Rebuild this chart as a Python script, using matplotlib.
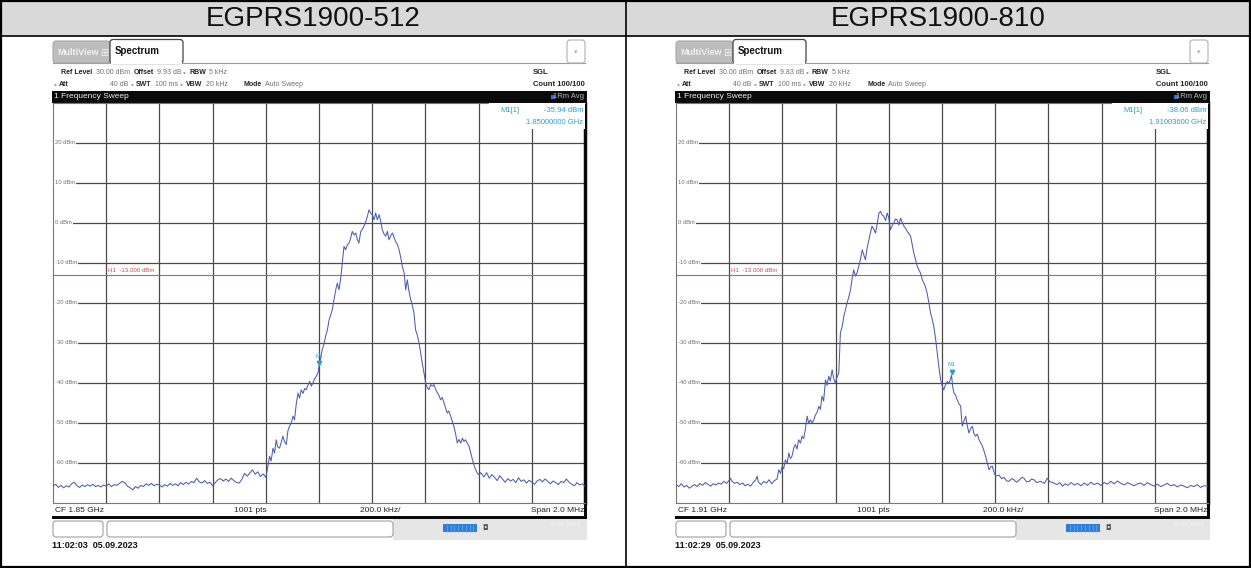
import matplotlib
matplotlib.use("Agg")
import matplotlib.pyplot as plt
from matplotlib.patches import Rectangle, FancyBboxPatch

W, H = 1251, 568

titles = ["EGPRS1900-512", "EGPRS1900-810"]
centre_freq = ["CF 1.85 GHz", "CF 1.91 GHz"]
offsets = ["9.93 dB", "9.83 dB"]
timestamps = ["11:02:03  05.09.2023", "11:02:29  05.09.2023"]
marker_freq = ["1.85000000 GHz", "1.91003600 GHz"]
marker_offset_khz = [0.0, 36.0]
marker_level = [-35.94, -38.06]
h1_level = -13.0
dbm_ticks = [20, 10, 0, -10, -20, -30, -40, -50, -60]

# channel 512: offset from CF (kHz) and level (dBm)
f512 = [-1000, -990, -980, -970, -960, -950, -940, -930, -920, -910, -900, -890, -880, -870, -860,
        -850, -840, -830, -820, -810, -800, -790, -780, -770, -760, -750, -740, -730, -720, -710,
        -700, -690, -680, -670, -660, -650, -640, -630, -620, -610, -600, -590, -580, -570, -560,
        -550, -540, -530, -520, -510, -500, -490, -480, -470, -460, -450, -440, -430, -420, -410,
        -400, -390, -380, -370, -360, -350, -340, -330, -320, -310, -300, -290, -280, -270, -260,
        -250, -240, -230, -220, -210, -200, -195, -186, -180, -173, -167, -161, -155, -148, -142,
        -136, -130, -123, -117, -111, -104, -98, -92, -86, -79, -73, -67, -60, -54, -48,
        -42, -35, -29, -23, -17, -10, -4, 0, 6, 12, 19, 25, 31, 38, 44,
        50, 57, 63, 69, 75, 81, 88, 94, 100, 107, 113, 119, 125, 132, 138,
        144, 150, 157, 163, 169, 176, 182, 188, 194, 200, 207, 213, 219, 226, 232,
        238, 245, 251, 257, 263, 270, 276, 282, 288, 295, 301, 307, 313, 320, 326,
        332, 338, 345, 351, 357, 363, 370, 376, 382, 388, 395, 401, 407, 413, 420,
        426, 432, 438, 445, 451, 457, 463, 470, 476, 482, 488, 495, 501, 507, 514,
        520, 526, 533, 539, 545, 551, 558, 564, 570, 577, 583, 589, 595, 602, 608,
        620, 630, 640, 650, 660, 670, 680, 690, 700, 710, 720, 730, 740, 750, 760,
        770, 780, 790, 800, 810, 820, 830, 840, 850, 860, 870, 880, 890, 900, 910,
        920, 930, 940, 950, 960, 970, 980, 990, 1000]
p512 = [-65.8, -65.3, -66.1, -65.6, -66.2, -65.7, -66.0, -65.2, -64.8, -65.7, -66.1, -65.5, -65.9, -65.4, -65.8,
        -65.3, -65.9, -65.6, -66.0, -65.5, -65.8, -65.2, -65.9, -65.4, -65.6, -65.1, -64.6, -64.9, -65.8, -66.2,
        -66.7, -65.9, -66.3, -65.6, -65.9, -65.2, -65.6, -65.1, -65.7, -65.3, -65.5, -66.0, -65.4, -65.8, -65.1,
        -65.6, -65.2, -65.7, -64.9, -65.4, -64.8, -65.3, -64.6, -64.9, -63.8, -64.7, -65.0, -64.4, -65.1, -64.8,
        -65.7, -64.9, -64.2, -63.9, -64.5, -64.0, -64.6, -63.8, -64.4, -64.9, -65.0, -64.1, -62.6, -63.3, -62.5,
        -61.7, -62.8, -62.2, -63.4, -62.7, -63.6, -62.0, -58.3, -59.5, -56.3, -57.5, -54.2, -56.0, -56.3, -54.8,
        -53.3, -54.6, -55.4, -52.0, -50.8, -50.0, -48.3, -49.2, -45.5, -42.5, -43.8, -41.7, -42.6, -41.4, -41.7,
        -40.6, -39.6, -40.8, -40.0, -39.0, -38.3, -37.5, -35.94, -33.9, -31.7, -30.2, -28.3, -26.9, -24.2, -23.0,
        -21.7, -18.9, -16.7, -15.0, -16.7, -14.2, -9.6, -5.8, -6.7, -5.4, -5.0, -3.8, -2.1, -3.0, -2.5,
        -4.1, -5.0, -2.1, -1.6, -0.8, 0.3, 1.7, 3.3, 2.5, 2.1, 0.8, 2.5, 0.8, 2.1, 0.4,
        -1.7, -2.8, -3.3, -2.1, -4.2, -3.1, -2.5, -3.6, -4.6, -5.4, -6.7, -8.5, -10.8, -12.5, -16.7,
        -14.2, -17.0, -19.2, -20.6, -22.5, -26.7, -28.1, -30.0, -32.4, -35.0, -37.6, -40.0, -41.2, -41.7, -40.4,
        -40.8, -40.4, -41.5, -42.5, -43.1, -44.2, -43.6, -45.0, -46.3, -47.5, -47.0, -48.3, -49.6, -50.8, -52.9,
        -55.0, -54.1, -55.0, -53.8, -54.6, -54.2, -55.1, -55.8, -57.4, -59.2, -60.6, -61.7, -62.5, -63.0, -62.4,
        -63.5, -62.4, -63.8, -62.9, -63.6, -64.4, -63.2, -64.0, -64.8, -63.9, -64.5, -64.1, -64.9, -63.7, -64.6,
        -64.2, -65.0, -64.3, -64.8, -65.3, -64.5, -64.1, -64.7, -64.0, -64.6, -65.2, -64.5, -64.9, -65.4, -64.6,
        -64.9, -64.0, -64.8, -65.3, -65.7, -64.9, -65.5, -65.2, -65.8]

# channel 810: offset from CF (kHz) and level (dBm)
f810 = [-1000, -990, -980, -970, -960, -950, -940, -930, -920, -910, -900, -890, -880, -870, -860,
        -850, -840, -830, -820, -810, -800, -795, -790, -780, -770, -760, -750, -740, -730, -720,
        -710, -700, -695, -690, -680, -670, -660, -650, -640, -630, -620, -614, -607, -601, -595,
        -589, -582, -576, -570, -564, -557, -551, -545, -539, -532, -526, -520, -514, -507, -501,
        -495, -488, -482, -476, -470, -463, -457, -451, -445, -438, -432, -426, -420, -413, -407,
        -401, -395, -388, -382, -375, -369, -363, -357, -350, -344, -338, -332, -325, -319, -313,
        -306, -300, -294, -288, -281, -275, -269, -263, -256, -250, -244, -237, -231, -225, -219,
        -212, -206, -200, -194, -187, -181, -175, -169, -162, -156, -150, -143, -137, -131, -125,
        -118, -112, -106, -100, -93, -87, -81, -74, -68, -62, -56, -49, -43, -37, -31,
        -24, -18, -12, -5, 1, 7, 13, 20, 26, 36, 40, 45, 51, 57, 63,
        70, 76, 82, 89, 95, 101, 108, 114, 120, 126, 133, 139, 145, 152, 158,
        164, 171, 177, 183, 189, 196, 202, 214, 224, 233, 243, 252, 262, 271, 280,
        290, 300, 308, 318, 327, 337, 346, 356, 371, 385, 396, 406, 420, 433, 443,
        453, 463, 473, 485, 497, 510, 522, 535, 547, 560, 572, 585, 597, 610, 622,
        635, 647, 660, 672, 685, 697, 710, 722, 735, 747, 760, 772, 785, 797, 810,
        822, 835, 847, 860, 872, 885, 897, 910, 922, 935, 947, 960, 972, 985, 1000]
p810 = [-65.4, -65.9, -65.2, -66.0, -65.6, -66.3, -65.8, -65.4, -65.9, -65.1, -65.6, -64.9, -65.3, -65.8, -65.2,
        -65.5, -65.0, -65.3, -64.6, -65.1, -64.3, -63.8, -64.5, -65.1, -64.8, -65.4, -65.0, -65.7, -65.3, -65.8,
        -64.9, -64.2, -63.3, -64.8, -65.4, -64.6, -65.0, -64.2, -65.2, -64.4, -64.0, -61.7, -62.6, -60.8, -61.4,
        -59.2, -60.1, -57.5, -58.9, -58.3, -56.2, -55.4, -56.5, -54.2, -55.0, -53.3, -53.9, -51.7, -48.3, -50.1,
        -49.2, -50.0, -49.2, -48.0, -47.4, -45.8, -46.6, -43.3, -44.5, -39.2, -40.6, -38.3, -39.5, -36.7, -38.9,
        -40.0, -38.6, -37.5, -27.5, -25.8, -23.3, -21.6, -20.0, -18.4, -16.7, -14.0, -11.7, -13.3, -12.4, -10.8,
        -8.9, -6.7, -8.0, -9.2, -6.1, -4.2, -2.4, -0.8, -1.6, -2.5, -0.4, 2.5, 2.9, 2.0, 1.7,
        0.6, 2.5, 1.3, -1.7, -0.6, 0.0, 1.0, 0.8, -0.5, 1.2, 0.3, -0.8, -1.3, -2.1, -2.6,
        -3.3, -5.4, -7.5, -9.0, -10.8, -11.7, -12.5, -14.2, -15.0, -16.0, -17.5, -20.1, -22.5, -24.0, -25.8,
        -29.0, -32.5, -35.8, -39.2, -40.8, -41.7, -40.5, -39.6, -40.2, -38.06, -40.9, -42.5, -43.0, -44.2, -45.1,
        -45.8, -50.8, -49.6, -48.3, -50.6, -52.5, -51.4, -50.8, -52.6, -53.3, -52.8, -54.2, -54.9, -55.8, -57.0,
        -58.3, -60.2, -61.7, -61.0, -60.8, -62.4, -63.3, -63.0, -63.9, -63.6, -64.5, -64.6, -63.9, -64.2, -64.8,
        -64.3, -63.6, -63.8, -64.7, -64.6, -64.0, -64.2, -64.9, -64.6, -65.1, -63.8, -64.7, -65.0, -65.4, -64.9,
        -65.8, -65.2, -65.6, -64.9, -65.5, -65.1, -65.7, -65.0, -65.6, -64.8, -65.4, -65.0, -65.6, -64.9, -65.3,
        -64.6, -65.2, -64.5, -65.1, -65.5, -64.9, -65.3, -65.7, -65.2, -65.0, -65.6, -64.9, -65.4, -65.8, -65.3,
        -65.9, -65.5, -65.1, -65.7, -65.4, -66.0, -65.5, -65.8, -66.2, -65.6, -65.9, -65.4, -66.1, -65.7, -65.8]

traces = [(f512, p512), (f810, p810)]
plot_left = [53, 676]
col_left = [0, 626]
col_width = [626, 625]

TRACE = "#4c5cb0"
MARK = "#2a9fd2"
SANS = ["Liberation Sans", "DejaVu Sans"]

fig = plt.figure(figsize=(W / 100, H / 100), dpi=100)
bg = fig.add_axes([0, 0, 1, 1])
bg.set_xlim(0, W)
bg.set_ylim(H, 0)
bg.axis("off")


def txt(x, y, s, size=5.0, color="#222222", weight="normal", ha="left", family=SANS, **kw):
    bg.text(x, y, s, fontsize=size, color=color, fontweight=weight, ha=ha, va="center",
            family=family, **kw)


def rect(x, y, w, h, fc, ec="none", lw=0.0, z=1):
    bg.add_patch(Rectangle((x, y), w, h, fc=fc, ec=ec, lw=lw, zorder=z))


def rbox(x, y, w, h, fc, ec, lw=0.8, r=3, z=2):
    bg.add_patch(FancyBboxPatch((x, y), w, h, boxstyle=f"round,pad=0,rounding_size={r}",
                                fc=fc, ec=ec, lw=lw, zorder=z))


for i in range(2):
    cx, cw, L = col_left[i], col_width[i], plot_left[i]
    R = L + 532

    # table header
    rect(cx, 0, cw, 36, "#d9d9d9")
    txt(cx + cw / 2, 18.5, titles[i], size=20, color="#111111", ha="center")

    # tabs
    bg.plot([L, R], [63, 63], color="#9a9a9a", lw=0.8, zorder=1)
    rbox(L, 41, 57, 22, "#bdbdbd", "#a8a8a8")
    txt(L + 4, 52.5, "MultiView", size=6.5, color="#f2f2f2", weight="bold")
    txt(L + 47, 52.5, "\u229e", size=7, color="#f2f2f2", family=["DejaVu Sans"])
    rbox(L + 57, 39.5, 73, 24, "white", "#444444", lw=0.9)
    rect(L + 58, 61, 71, 3, "white", z=3)
    txt(L + 62, 51.5, "Spectrum", size=7, color="#111111", weight="bold")
    rbox(L + 514, 40, 18, 23, "white", "#b0b0b0")
    txt(L + 523, 52, "\u25be", size=5, color="#b0b0b0", ha="center", family=["DejaVu Sans"])

    # setting lines
    y1, y2 = 72, 84
    grey = "#707070"
    dot = "#9a9a9a"
    txt(L + 8, y1, "Ref Level", weight="bold")
    txt(L + 43, y1, "30.00 dBm", color=grey)
    txt(L + 81, y1, "Offset", weight="bold")
    txt(L + 104, y1, offsets[i], color=grey)
    txt(L + 130, y1, "\u25cf", color=dot, size=3.5)
    txt(L + 136, y1, "RBW", weight="bold")
    txt(L + 156, y1, "5 kHz", color=grey)
    txt(L + 1, y2, "\u25cf", color=dot, size=3.5)
    txt(L + 6, y2, "Att", weight="bold")
    txt(L + 75, y2, "40 dB", color=grey, ha="right")
    txt(L + 78, y2, "\u25cf", color=dot, size=3.5)
    txt(L + 83, y2, "SWT", weight="bold")
    txt(L + 102, y2, "100 ms", color=grey)
    txt(L + 127, y2, "\u25cf", color=dot, size=3.5)
    txt(L + 133, y2, "VBW", weight="bold")
    txt(L + 153, y2, "20 kHz", color=grey)
    txt(L + 191, y2, "Mode", weight="bold")
    txt(L + 212, y2, "Auto Sweep", color=grey)
    txt(L + 480, y1, "SGL", weight="bold", size=5.5)
    txt(R, y2, "Count 100/100", weight="bold", ha="right", size=5.5)

    # window title bar
    rect(L - 1, 91, 535, 12, "#0a0a0a", z=3)
    txt(L + 1, 97, "1 Frequency Sweep", size=6, color="#f0f0f0", zorder=4)
    rect(R - 34, 95, 3.5, 4, "#3a6fd8", z=4)
    txt(R - 1, 97, "1Rm Avg", size=5.5, color="#b8b8b8", ha="right", zorder=4)

    # spectrum diagram
    ax = fig.add_axes([L / W, 1 - 503 / H, 532 / W, 400 / H])
    ax.set_xlim(-1000, 1000)
    ax.set_ylim(-70, 30)
    ax.set_xticks(range(-800, 1000, 200))
    ax.set_yticks(range(-60, 30, 10))
    ax.grid(True, color="#4a4a4a", lw=0.9)
    ax.tick_params(length=0, labelleft=False, labelbottom=False)
    for side in ("top", "left", "bottom"):
        ax.spines[side].set_color("#777777")
        ax.spines[side].set_linewidth(0.8)
    ax.spines["right"].set_color("#0a0a0a")
    ax.spines["right"].set_linewidth(2.5)

    for v in dbm_ticks:
        ax.text(0.004, v, f"{v} dBm", transform=ax.get_yaxis_transform(), fontsize=4.2,
                color="#707070", va="center", family=SANS,
                bbox=dict(fc="white", ec="none", pad=0.6), zorder=3)

    ax.axhline(h1_level, color="#d9534f", lw=0.8, zorder=2)
    ax.text(-795, h1_level + 0.6, f"H1  {h1_level:.3f} dBm", fontsize=4.4, color="#c0504d",
            va="bottom", family=SANS, zorder=3)

    f, p = traces[i]
    ax.plot(f, p, color=TRACE, lw=0.75, zorder=4)

    mf, ml = marker_offset_khz[i], marker_level[i]
    ax.plot([mf], [ml + 0.9], marker="v", ms=3.2, color=MARK, zorder=5)
    ax.text(mf, ml + 2.0, "M1", fontsize=4.0, color=MARK, ha="center", va="bottom",
            family=SANS, zorder=5)

    # marker readout
    ax.add_patch(Rectangle((0.82, 0.935), 0.18, 0.07, transform=ax.transAxes, fc="white",
                           ec="none", zorder=3))
    ax.text(0.84, 0.982, "M1[1]", transform=ax.transAxes, fontsize=5.5, color=MARK,
            va="center", family=SANS, zorder=4)
    ax.text(0.997, 0.982, f"{ml:.2f} dBm", transform=ax.transAxes, fontsize=5.5, color=MARK,
            va="center", ha="right", family=SANS, zorder=4)
    ax.text(0.997, 0.951, marker_freq[i], transform=ax.transAxes, fontsize=5.5, color=MARK,
            va="center", ha="right", family=SANS, zorder=4)

    # footer of the diagram
    y3 = 510
    txt(L + 2, y3, centre_freq[i], size=6)
    txt(L + 197, y3, "1001 pts", size=6, ha="center")
    txt(L + 327, y3, "200.0 kHz/", size=6, ha="center")
    txt(R - 1, y3, "Span 2.0 MHz", size=6, ha="right")
    rect(L - 1, 516, 535, 2.5, "#0a0a0a", z=3)
    rect(R - 1, 91, 2.5, 427, "#0a0a0a", z=3)

    # status bar
    rect(L + 340, 519, 194, 21, "#e6e6e6", z=1)
    rbox(L, 521, 50, 16, "white", "#a0a0a0")
    rbox(L + 54, 521, 286, 16, "white", "#a0a0a0")
    rect(L + 390, 524, 34, 8, "#2c7fdc", z=2)
    for k in range(1, 9):
        bg.plot([L + 390 + k * 3.8] * 2, [524.5, 531.5], color="#7fb2ee", lw=0.4, zorder=3)
    txt(L + 429, 528, "\u25d8", size=5, color="#555555", family=["DejaVu Sans"])
    txt(L + 512, 525, "05.09.2023", size=4.5, color="#f4f4f4", ha="center")

    txt(L - 1, 545, timestamps[i], size=6.5, color="#111111", weight="bold")

# table rules
bg.plot([0, W], [36, 36], color="black", lw=1.2, zorder=5)
bg.plot([626, 626], [0, H], color="black", lw=1.2, zorder=5)
bg.add_patch(Rectangle((0.8, 0.8), W - 1.6, H - 1.6, fc="none", ec="black", lw=1.6, zorder=5))

fig.savefig("out.png", dpi=100)
